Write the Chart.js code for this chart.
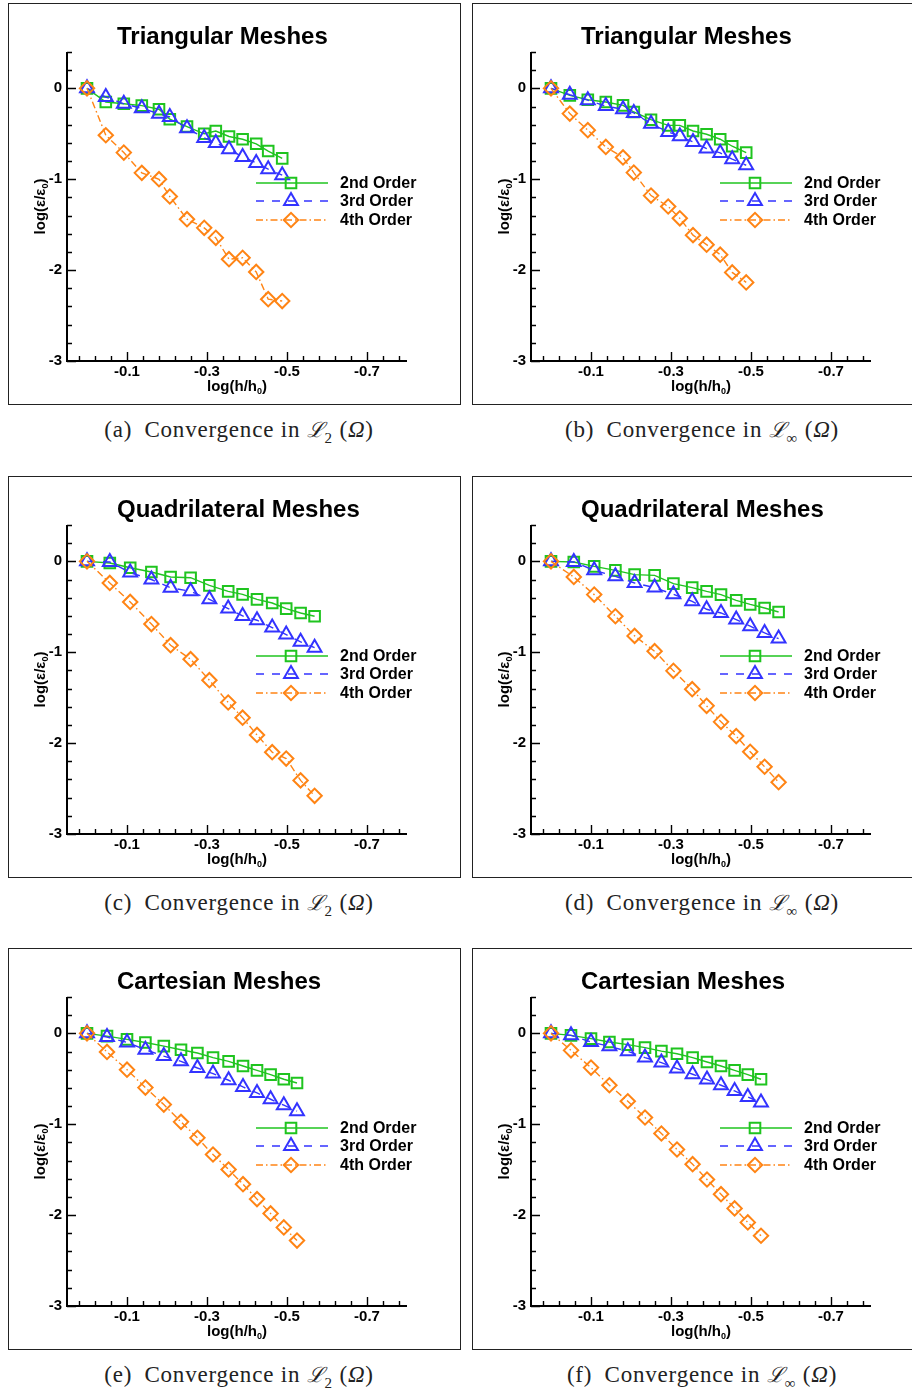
<!DOCTYPE html>
<html lang="en">
<head>
<meta charset="UTF-8">
<title>Convergence</title>
<script src="https://cdn.jsdelivr.net/npm/chart.js"></script>
<style>
  body { margin: 0; width: 912px; height: 1391px; background: #fff; position: relative; overflow: hidden; }
  .box { position: absolute; width: 453px; height: 402px; border: 1px solid #222; box-sizing: border-box; }
  .box canvas { position: absolute; left: 0; top: 0; }
  .cap { position: absolute; width: 460px; margin-left: -230px; text-align: center;
         font-family: "Liberation Serif", "DejaVu Serif", serif; font-size: 23px; letter-spacing: 0.8px;
         color: #222; white-space: nowrap; }
  .cap .sc { font-family: "DejaVu Serif", serif; font-size: 21px; font-style: italic; }
  .cap sub { font-size: 15px; }
</style>
</head>
<body>
<div class="box" style="left:8px;top:3px"><canvas id="ca" width="451" height="400"></canvas></div>
<div class="box" style="left:472px;top:3px"><canvas id="cb" width="451" height="400"></canvas></div>
<div class="box" style="left:8px;top:476px"><canvas id="cc" width="451" height="400"></canvas></div>
<div class="box" style="left:472px;top:476px"><canvas id="cd" width="451" height="400"></canvas></div>
<div class="box" style="left:8px;top:948px"><canvas id="ce" width="451" height="400"></canvas></div>
<div class="box" style="left:472px;top:948px"><canvas id="cf" width="451" height="400"></canvas></div>

<div class="cap" style="left:239px;top:415px">(a)&ensp;Convergence in <span class="sc">ℒ</span><sub>2</sub> (<i>Ω</i>)</div>
<div class="cap" style="left:702px;top:415px">(b)&ensp;Convergence in <span class="sc">ℒ</span><sub>∞</sub> (<i>Ω</i>)</div>
<div class="cap" style="left:239px;top:888px">(c)&ensp;Convergence in <span class="sc">ℒ</span><sub>2</sub> (<i>Ω</i>)</div>
<div class="cap" style="left:702px;top:888px">(d)&ensp;Convergence in <span class="sc">ℒ</span><sub>∞</sub> (<i>Ω</i>)</div>
<div class="cap" style="left:239px;top:1360px">(e)&ensp;Convergence in <span class="sc">ℒ</span><sub>2</sub> (<i>Ω</i>)</div>
<div class="cap" style="left:702px;top:1360px">(f)&ensp;Convergence in <span class="sc">ℒ</span><sub>∞</sub> (<i>Ω</i>)</div>

<script>
// log(h/h0) for each mesh family
const triX  = [0, -0.047, -0.092, -0.137, -0.18, -0.207, -0.25, -0.293, -0.322, -0.355, -0.389, -0.423, -0.453, -0.488];
const quadX = [0, -0.057, -0.108, -0.161, -0.209, -0.259, -0.306, -0.353, -0.389, -0.425, -0.463, -0.498, -0.534, -0.569];
const cartX = [0, -0.05, -0.1, -0.146, -0.192, -0.235, -0.276, -0.315, -0.354, -0.39, -0.425, -0.459, -0.492, -0.525];

// log(err/err0), triangular meshes
const triL2_2nd = [0, -0.15, -0.17, -0.19, -0.23, -0.34, -0.42, -0.50, -0.47, -0.53, -0.56, -0.61, -0.69, -0.77];
const triL2_3rd = [0, -0.095, -0.17, -0.22, -0.28, -0.315, -0.44, -0.545, -0.60, -0.67, -0.755, -0.82, -0.89, -0.955];
const triL2_4th = [0, -0.516, -0.707, -0.93, -1.00, -1.19, -1.44, -1.535, -1.645, -1.88, -1.865, -2.02, -2.32, -2.34];
const triLi_2nd = [0, -0.077, -0.125, -0.15, -0.187, -0.26, -0.345, -0.407, -0.407, -0.469, -0.505, -0.56, -0.637, -0.707];
const triLi_3rd = [0, -0.07, -0.13, -0.195, -0.23, -0.27, -0.39, -0.48, -0.527, -0.59, -0.663, -0.71, -0.78, -0.846];
const triLi_4th = [0, -0.278, -0.46, -0.645, -0.76, -0.927, -1.18, -1.30, -1.43, -1.615, -1.72, -1.83, -2.025, -2.135];

// quadrilateral meshes
const quadL2_2nd = [0, -0.018, -0.07, -0.117, -0.172, -0.18, -0.264, -0.33, -0.363, -0.418, -0.458, -0.52, -0.568, -0.604];
const quadL2_3rd = [0, -0.007, -0.124, -0.2, -0.29, -0.33, -0.418, -0.52, -0.60, -0.648, -0.729, -0.806, -0.886, -0.95];
const quadL2_4th = [0, -0.238, -0.447, -0.69, -0.923, -1.077, -1.308, -1.553, -1.72, -1.91, -2.10, -2.17, -2.41, -2.58];
const quadLi_2nd = [0, -0.007, -0.055, -0.099, -0.146, -0.154, -0.245, -0.289, -0.33, -0.366, -0.429, -0.473, -0.513, -0.557];
const quadLi_3rd = [0, -0.007, -0.099, -0.165, -0.238, -0.289, -0.363, -0.44, -0.527, -0.568, -0.64, -0.714, -0.788, -0.85];
const quadLi_4th = [0, -0.172, -0.366, -0.604, -0.82, -0.989, -1.205, -1.407, -1.59, -1.766, -1.923, -2.095, -2.26, -2.43];

// cartesian meshes
const cartL2_2nd = [0, -0.03, -0.066, -0.10, -0.14, -0.18, -0.216, -0.267, -0.308, -0.359, -0.407, -0.454, -0.505, -0.546];
const cartL2_3rd = [0, -0.04, -0.10, -0.18, -0.25, -0.308, -0.381, -0.443, -0.516, -0.59, -0.656, -0.725, -0.79, -0.857];
const cartL2_4th = [0, -0.205, -0.40, -0.597, -0.784, -0.974, -1.15, -1.333, -1.498, -1.66, -1.824, -1.982, -2.135, -2.28];
const cartLi_2nd = [0, -0.022, -0.058, -0.095, -0.124, -0.157, -0.195, -0.224, -0.267, -0.315, -0.359, -0.407, -0.454, -0.505];
const cartLi_3rd = [0, -0.022, -0.095, -0.143, -0.198, -0.267, -0.322, -0.388, -0.45, -0.509, -0.571, -0.634, -0.70, -0.762];
const cartLi_4th = [0, -0.187, -0.377, -0.571, -0.747, -0.926, -1.102, -1.278, -1.44, -1.608, -1.77, -1.926, -2.08, -2.227];

const seriesNames = ['2nd Order', '3rd Order', '4th Order'];
const xMajorTicks = [-0.1, -0.3, -0.5, -0.7];
const yMajorTicks = [0, -1, -2, -3];

const colors = ['#1fc41f', '#3333ff', '#ff8414'];
const dashes = [[], [8, 8], [7, 3, 1.5, 3]];
const marks = ['rect', 'triangle', 'rectRot'];
const radii = [7.5, 8, 7.2];
const FAM = '"Liberation Sans", Arial, Helvetica, sans-serif';

const panels = [
  { id: 'ca', title: 'Triangular Meshes',    xs: triX,  ys: [triL2_2nd, triL2_3rd, triL2_4th] },
  { id: 'cb', title: 'Triangular Meshes',    xs: triX,  ys: [triLi_2nd, triLi_3rd, triLi_4th] },
  { id: 'cc', title: 'Quadrilateral Meshes', xs: quadX, ys: [quadL2_2nd, quadL2_3rd, quadL2_4th] },
  { id: 'cd', title: 'Quadrilateral Meshes', xs: quadX, ys: [quadLi_2nd, quadLi_3rd, quadLi_4th] },
  { id: 'ce', title: 'Cartesian Meshes',     xs: cartX, ys: [cartL2_2nd, cartL2_3rd, cartL2_4th] },
  { id: 'cf', title: 'Cartesian Meshes',     xs: cartX, ys: [cartLi_2nd, cartLi_3rd, cartLi_4th] }
];

// tick positions (minor every 0.04 on x, 0.2 on y)
const xTickVals = [];
for (let i = 0; i < 21; i++) xTickVals.push(Math.round((0.02 - 0.04 * i) * 100) / 100);
const yTickVals = [];
for (let i = 0; i <= 17; i++) yTickVals.push(Math.round((-3 + 0.2 * i) * 10) / 10);

const isMajor = (list, v) => list.some(m => Math.abs(m - v) < 1e-6);

function subText(ctx, main, sub, tail, x, y, size) {
  const big = `bold ${size}px ${FAM}`, small = `bold ${Math.round(size * 0.62)}px ${FAM}`;
  ctx.font = big; const w1 = ctx.measureText(main).width, w3 = ctx.measureText(tail).width;
  ctx.font = small; const w2 = ctx.measureText(sub).width;
  let cx = x - (w1 + w2 + w3) / 2;
  ctx.textAlign = 'left'; ctx.textBaseline = 'alphabetic';
  ctx.font = big; ctx.fillText(main, cx, y); cx += w1;
  ctx.font = small; ctx.fillText(sub, cx, y + size * 0.22); cx += w2;
  ctx.font = big; ctx.fillText(tail, cx, y);
}

const decor = (p) => ({
  id: 'decor',
  afterDraw(chart) {
    const { ctx, chartArea: a, scales } = chart;
    ctx.save();
    ctx.strokeStyle = '#000'; ctx.fillStyle = '#000';
    // axis lines
    ctx.lineWidth = 2;
    ctx.beginPath();
    ctx.moveTo(a.left, a.top); ctx.lineTo(a.left, a.bottom); ctx.lineTo(a.right, a.bottom);
    ctx.stroke();
    // inward ticks
    ctx.lineWidth = 1.4;
    ctx.beginPath();
    yTickVals.forEach(v => {
      const y = Math.round(scales.y.getPixelForValue(v)) + 0.5;
      ctx.moveTo(a.left, y); ctx.lineTo(a.left + (isMajor(yMajorTicks, v) ? 9 : 5), y);
    });
    xTickVals.forEach(v => {
      const x = Math.round(scales.x.getPixelForValue(v)) + 0.5;
      ctx.moveTo(x, a.bottom); ctx.lineTo(x, a.bottom - (isMajor(xMajorTicks, v) ? 9 : 5));
    });
    ctx.stroke();
    // title
    ctx.font = `bold 24px ${FAM}`;
    ctx.textAlign = 'left'; ctx.textBaseline = 'alphabetic';
    ctx.fillText(p.title, a.left + 50, 40);
    // axis titles
    subText(ctx, 'log(h/h', '0', ')', (a.left + a.right) / 2, a.bottom + 30, 15);
    ctx.save();
    ctx.translate(a.left - 22, (a.top + a.bottom) / 2);
    ctx.rotate(-Math.PI / 2);
    subText(ctx, 'log(ε/ε', '0', ')', 0, 0, 15);
    ctx.restore();
    // legend
    const rows = [131, 149, 168];
    seriesNames.forEach((name, k) => {
      const y = a.top + rows[k];
      ctx.strokeStyle = colors[k]; ctx.lineWidth = 1.5;
      ctx.setLineDash(dashes[k]);
      ctx.beginPath(); ctx.moveTo(a.left + 189, y); ctx.lineTo(a.left + 261, y); ctx.stroke();
      ctx.setLineDash([]);
      ctx.fillStyle = 'rgba(0,0,0,0)';
      ctx.lineWidth = 2;
      Chart.helpers.drawPoint(ctx, { pointStyle: marks[k], radius: radii[k], borderWidth: 2, rotation: 0 }, a.left + 224, y);
      ctx.fillStyle = '#000';
      ctx.font = `bold 16px ${FAM}`;
      ctx.textAlign = 'left'; ctx.textBaseline = 'middle';
      ctx.fillText(name, a.left + 273, y + 1);
    });
    ctx.restore();
  }
});

const tickFont = { family: FAM, size: 15, weight: 'bold' };

panels.forEach(p => {
  new Chart(document.getElementById(p.id), {
    type: 'line',
    data: {
      datasets: seriesNames.map((name, k) => ({
        label: name,
        data: p.xs.map((x, i) => ({ x: x, y: p.ys[k][i] })),
        borderColor: colors[k],
        borderWidth: 1.4,
        borderDash: dashes[k],
        pointStyle: marks[k],
        pointRadius: radii[k],
        pointBorderWidth: 2,
        pointBorderColor: colors[k],
        pointBackgroundColor: 'rgba(0,0,0,0)',
        fill: false,
        tension: 0,
        order: 3 - k
      }))
    },
    options: {
      responsive: false,
      animation: false,
      devicePixelRatio: 1,
      layout: { padding: { left: 0, top: 48, right: 53, bottom: 0 } },
      plugins: { legend: { display: false }, tooltip: { enabled: false }, title: { display: false } },
      scales: {
        x: {
          type: 'linear', reverse: true, min: -0.8, max: 0.05,
          afterBuildTicks: s => { s.ticks = xTickVals.map(v => ({ value: v })); },
          afterFit: s => { s.height = 43; },
          ticks: {
            autoSkip: false, maxRotation: 0, padding: 2, color: '#000', font: tickFont,
            callback: v => isMajor(xMajorTicks, v) ? v.toFixed(1) : ''
          },
          grid: { display: false, drawTicks: false },
          border: { display: false }
        },
        y: {
          type: 'linear', min: -3, max: 0.4,
          afterBuildTicks: s => { s.ticks = yTickVals.map(v => ({ value: v })); },
          afterFit: s => { s.width = 58; },
          ticks: {
            autoSkip: false, padding: 5, color: '#000', font: tickFont,
            callback: v => isMajor(yMajorTicks, v) ? String(Math.round(v) || 0) : ''
          },
          grid: { display: false, drawTicks: false },
          border: { display: false }
        }
      }
    },
    plugins: [decor(p)]
  });
});
</script>
</body>
</html>
